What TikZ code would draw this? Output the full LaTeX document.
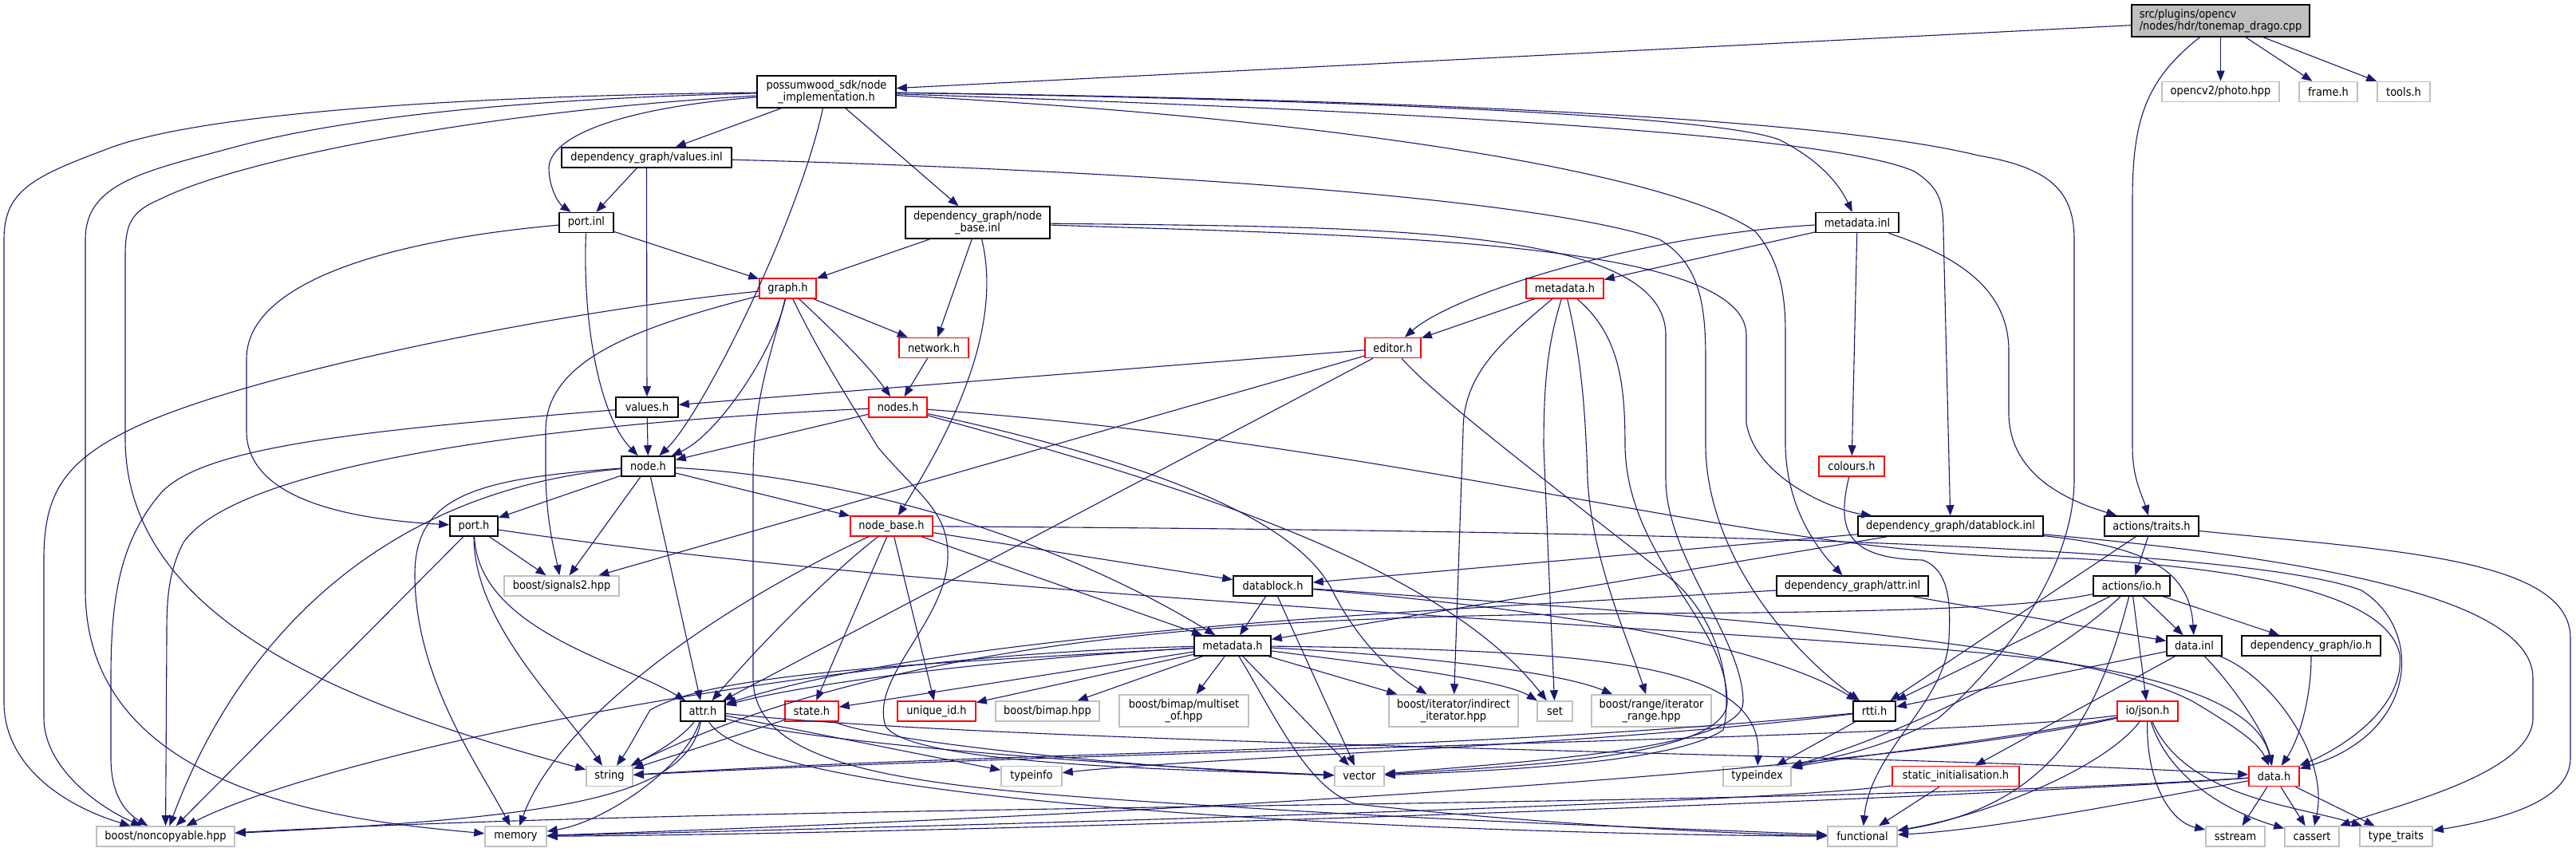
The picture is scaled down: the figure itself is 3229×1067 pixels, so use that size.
\documentclass[tikz,border=0pt]{standalone}
\usepackage{fontspec}
\setmainfont{DejaVu Sans}[FakeStretch=0.9]
\usetikzlibrary{arrows.meta}
\definecolor{edgec}{HTML}{191970}
\definecolor{graybd}{HTML}{BFBFBF}
\definecolor{fillgr}{HTML}{BFBFBF}
\definecolor{redbd}{HTML}{FF0000}
\tikzset{
  dep/.style={draw=edgec, line width=0.55pt, -{Triangle[length=6.5pt,width=5pt]}},
  box/.style={rectangle, inner sep=0pt, minimum height=12.5pt, line width=0.8pt, font=\fontsize{7.2pt}{7.6pt}\selectfont, align=center, fill=white},
  bk/.style={box, draw=black},
  gr/.style={box, draw=graybd},
  rd/.style={box, draw=redbd},
  tall/.style={minimum height=20pt},
  bw/.style={minimum width={#1*0.5pt}},
}
\begin{document}
\begin{tikzpicture}[x=0.5pt,y=-0.5pt]
\fill[white] (0,0) rectangle (3229,1067);
\path[use as bounding box] (0,0) rectangle (3229,1067);

% nodes
\node[bk,bw=223,tall,fill=fillgr,align=left] (T) at (2783.5,26) {src/plugins/opencv\\/nodes/hdr/tonemap\_drago.cpp};
\node[bk,bw=174,tall] (NI) at (1036,115) {possumwood\_sdk/node\\\_implementation.h};
\node[gr,bw=147] (PH) at (2783.5,115) {opencv2/photo.hpp};
\node[gr,bw=73] (FR) at (2918.5,115) {frame.h};
\node[gr,bw=66] (TO) at (3013,115) {tools.h};
\node[bk,bw=213] (VI) at (810.5,197.5) {dependency\_graph/values.inl};
\node[bk,bw=68] (PI) at (735,279) {port.inl};
\node[bk,bw=181,tall] (NBI) at (1225.5,279) {dependency\_graph/node\\\_base.inl};
\node[bk,bw=104] (MI) at (2328,279) {metadata.inl};
\node[rd,bw=71] (GR) at (987.5,361.5) {graph.h};
\node[rd,bw=97] (MHr) at (1961.5,361.5) {metadata.h};
\node[rd,bw=87] (NW) at (1170.5,436) {network.h};
\node[rd,bw=70] (ED) at (1746,436) {editor.h};
\node[bk,bw=78] (VH) at (811,510.5) {values.h};
\node[rd,bw=73] (NS) at (1125.5,510.5) {nodes.h};
\node[bk,bw=67] (NH) at (812.5,584.5) {node.h};
\node[rd,bw=82] (CO) at (2321,584.5) {colours.h};
\node[bk,bw=60] (PT) at (594,659.5) {port.h};
\node[rd,bw=103] (NB) at (1117.5,659.5) {node\_base.h};
\node[bk,bw=232] (DBI) at (2445,659.5) {dependency\_graph/datablock.inl};
\node[bk,bw=118] (AT) at (2697,659.5) {actions/traits.h};
\node[gr,bw=144] (SIG) at (704,734.5) {boost/signals2.hpp};
\node[bk,bw=99] (DB) at (1595.5,734.5) {datablock.h};
\node[bk,bw=190] (ATI) at (2322,734.5) {dependency\_graph/attr.inl};
\node[bk,bw=96] (AIO) at (2672,734.5) {actions/io.h};
\node[bk,bw=96] (MH) at (1545,809.5) {metadata.h};
\node[bk,bw=69] (DI) at (2750.5,809.5) {data.inl};
\node[bk,bw=174] (DIO) at (2897,809.5) {dependency\_graph/io.h};
\node[bk,bw=56] (ATR) at (881,891.5) {attr.h};
\node[rd,bw=67] (ST) at (1017.5,891.5) {state.h};
\node[rd,bw=98] (UID) at (1174,891.5) {unique\_id.h};
\node[gr,bw=130] (BM) at (1313,891.5) {boost/bimap.hpp};
\node[gr,bw=162,tall] (BMM) at (1484,891) {boost/bimap/multiset\\\_of.hpp};
\node[gr,bw=162,tall] (II) at (1822,891) {boost/iterator/indirect\\\_iterator.hpp};
\node[gr,bw=44] (SET) at (1949,891.5) {set};
\node[gr,bw=150,tall] (IR) at (2070,891) {boost/range/iterator\\\_range.hpp};
\node[bk,bw=53] (RT) at (2349.5,891.5) {rtti.h};
\node[rd,bw=76] (JS) at (2692,891.5) {io/json.h};
\node[gr,bw=58] (STR) at (764,973) {string};
\node[gr,bw=76] (TI) at (1293,973) {typeinfo};
\node[gr,bw=62] (VEC) at (1704,973) {vector};
\node[gr,bw=85] (TX) at (2202.5,973) {typeindex};
\node[rd,bw=159] (SI) at (2451.5,973) {static\_initialisation.h};
\node[rd,bw=63] (DH) at (2850.5,973) {data.h};
\node[gr,bw=173] (NC) at (207.5,1048.5) {boost/noncopyable.hpp};
\node[gr,bw=77] (MEM) at (646.5,1048.5) {memory};
\node[gr,bw=87] (FN) at (2334.5,1048.5) {functional};
\node[gr,bw=74] (SS) at (2802,1048.5) {sstream};
\node[gr,bw=68] (CA) at (2898,1048.5) {cassert};
\node[gr,bw=91] (TT) at (3003.5,1048.5) {type\_traits};

% T
\draw[dep] (T) -- (NI);
\draw[dep] (T) -- (PH);
\draw[dep] (T) -- (FR);
\draw[dep] (T) -- (TO);
\draw[dep] (T) .. controls (2690,100) and (2673,150) .. (2673,250) -- (2673,560) .. controls (2673,600) and (2685,620) .. (AT);

% NI
\draw[dep] (NI) .. controls (600,120) and (250,140) .. (131,188) .. controls (40,222) and (5,240) .. (5,300) -- (5,880) .. controls (5,960) and (80,1010) .. (NC);
\draw[dep] (NI) .. controls (600,125) and (400,155) .. (288,186) .. controls (180,215) and (107,230) .. (107,300) -- (107,740) .. controls (107,1000) and (450,1030) .. (MEM);
\draw[dep] (NI) .. controls (600,140) and (300,200) .. (200,250) .. controls (165,265) and (157,280) .. (157,320) -- (157,550) .. controls (157,800) and (500,900) .. (STR);
\draw[dep] (NI) .. controls (780,135) and (690,170) .. (688,210) .. controls (688,235) and (700,255) .. (PI);
\draw[dep] (NI) -- (VI);
\draw[dep] (NI) .. controls (1000,280) and (880,520) .. (NH);
\draw[dep] (NI) -- (NBI);
\draw[dep] (NI) .. controls (1700,125) and (2150,145) .. (2230,175) .. controls (2280,200) and (2305,230) .. (MI);
\draw[dep] (NI) .. controls (1800,140) and (2300,170) .. (2400,215) .. controls (2430,235) and (2436,250) .. (2436,290) -- (DBI);
\draw[dep] (NI) .. controls (1800,125) and (2300,150) .. (2480,195) .. controls (2570,210) and (2600,240) .. (2600,300) -- (2600,600) .. controls (2600,720) and (2500,840) .. (2430,900) .. controls (2360,940) and (2290,950) .. (TX);
\draw[dep] (NI) .. controls (1700,150) and (2100,220) .. (2200,290) .. controls (2235,330) and (2238,380) .. (2238,420) -- (2238,560) .. controls (2240,640) and (2280,690) .. (ATI);

% VI
\draw[dep] (VI) -- (PI);
\draw[dep] (VI) -- (VH);
\draw[dep] (VI) .. controls (1300,210) and (1900,240) .. (2080,300) .. controls (2130,330) and (2138,380) .. (2138,450) -- (2138,560) .. controls (2140,700) and (2250,820) .. (RT);

% PI
\draw[dep] (PI) -- (GR);
\draw[dep] (PI) .. controls (500,300) and (309,350) .. (309,450) -- (309,540) .. controls (309,620) and (420,650) .. (PT);
\draw[dep] (PI) .. controls (730,400) and (750,520) .. (NH);

% NBI
\draw[dep] (NBI) -- (GR);
\draw[dep] (NBI) -- (NW);
\draw[dep] (NBI) .. controls (1260,420) and (1180,560) .. (NB);
\draw[dep] (NBI) .. controls (1700,295) and (2189,300) .. (2189,420) -- (2189,530) .. controls (2200,600) and (2300,640) .. (DBI);
\draw[dep] (NBI) .. controls (1700,285) and (2088,280) .. (2088,420) -- (2088,600) .. controls (2088,700) and (2185,800) .. (2185,880) .. controls (2185,940) and (1900,955) .. (VEC);

% MI
\draw[dep] (MI) -- (MHr);
\draw[dep] (MI) .. controls (2050,295) and (1820,370) .. (ED);
\draw[dep] (MI) -- (CO);
\draw[dep] (MI) .. controls (2450,320) and (2518,360) .. (2518,440) -- (2518,520) .. controls (2520,600) and (2600,630) .. (AT);

% GR
\draw[dep] (GR) -- (NW);
\draw[dep] (GR) .. controls (1050,420) and (1090,460) .. (NS);
\draw[dep] (GR) .. controls (970,440) and (900,545) .. (NH);
\draw[dep] (GR) .. controls (700,390) and (300,470) .. (160,540) .. controls (80,580) and (55,620) .. (55,700) -- (55,900) .. controls (55,960) and (120,1010) .. (NC);
\draw[dep] (GR) .. controls (800,410) and (684,450) .. (684,540) -- (684,600) .. controls (686,660) and (695,690) .. (SIG);
\draw[dep] (GR) .. controls (965,450) and (944,500) .. (944,600) -- (944,850) .. controls (944,980) and (1200,990) .. (1600,1015) .. controls (1900,1033) and (2150,1040) .. (FN);
\draw[dep] (GR) .. controls (1030,450) and (1070,510) .. (1100,560) .. controls (1150,620) and (1190,640) .. (1188,700) .. controls (1185,780) and (1090,850) .. (1110,910) .. controls (1140,960) and (1500,965) .. (VEC);

% NW
\draw[dep] (NW) -- (NS);

% MHr
\draw[dep] (MHr) -- (ED);
\draw[dep] (MHr) .. controls (1880,430) and (1834,470) .. (1834,540) -- (II);
\draw[dep] (MHr) .. controls (1940,430) and (1935,480) .. (1935,560) -- (SET);
\draw[dep] (MHr) .. controls (1980,440) and (1987,500) .. (1990,600) .. controls (1995,700) and (2040,800) .. (IR);
\draw[dep] (MHr) .. controls (2030,420) and (2037,480) .. (2037,560) .. controls (2040,700) and (2165,780) .. (2165,880) .. controls (2165,950) and (1900,960) .. (VEC);

% ED
\draw[dep] (ED) -- (VH);
\draw[dep] (ED) -- (SIG);
\draw[dep] (ED) -- (ATR);
\draw[dep] (ED) .. controls (1800,500) and (2000,650) .. (2100,730) .. controls (2165,790) and (2170,880) .. (2160,915) .. controls (2100,955) and (1900,965) .. (VEC);

% VH
\draw[dep] (VH) -- (NH);
\draw[dep] (VH) .. controls (450,540) and (250,560) .. (200,620) .. controls (150,680) and (139,750) .. (139,850) -- (139,950) .. controls (139,1000) and (160,1020) .. (NC);

% NS
\draw[dep] (NS) -- (NH);
\draw[dep] (NS) .. controls (700,530) and (300,580) .. (230,680) .. controls (209,720) and (209,760) .. (209,800) -- (NC);
\draw[dep] (NS) .. controls (1800,560) and (2200,700) .. (2600,700) .. controls (2800,712) and (2990,740) .. (3008,820) .. controls (3015,890) and (2930,940) .. (DH);
\draw[dep] (NS) .. controls (1400,570) and (1620,640) .. (1670,740) .. controls (1700,800) and (1740,840) .. (II);
\draw[dep] (NS) .. controls (1450,600) and (1800,700) .. (SET);

% NH
\draw[dep] (NH) -- (NB);
\draw[dep] (NH) -- (PT);
\draw[dep] (NH) -- (ATR);
\draw[dep] (NH) .. controls (1100,600) and (1350,690) .. (MH);
\draw[dep] (NH) -- (SIG);
\draw[dep] (NH) .. controls (480,615) and (300,800) .. (NC);
\draw[dep] (NH) .. controls (600,600) and (520,620) .. (520,720) .. controls (520,850) and (600,960) .. (MEM);

% PT
\draw[dep] (PT) -- (NC);
\draw[dep] (PT) -- (SIG);
\draw[dep] (PT) .. controls (594,780) and (700,880) .. (STR);
\draw[dep] (PT) .. controls (600,790) and (780,830) .. (ATR);
\draw[dep] (PT) .. controls (1200,750) and (2200,790) .. (2500,820) .. controls (2700,840) and (2830,880) .. (DH);

% NB
\draw[dep] (NB) -- (DB);
\draw[dep] (NB) -- (MH);
\draw[dep] (NB) -- (UID);
\draw[dep] (NB) -- (ST);
\draw[dep] (NB) .. controls (1040,720) and (960,800) .. (ATR);
\draw[dep] (NB) .. controls (900,760) and (700,900) .. (MEM);
\draw[dep] (NB) .. controls (2000,665) and (2800,680) .. (2960,740) .. controls (3040,790) and (3030,920) .. (DH);

% DBI
\draw[dep] (DBI) -- (DB);
\draw[dep] (DBI) -- (MH);
\draw[dep] (DBI) .. controls (2690,685) and (2745,715) .. (DI);
\draw[dep] (DBI) .. controls (2900,700) and (3175,750) .. (3175,850) -- (3175,900) .. controls (3175,970) and (3000,1010) .. (CA);

% AT
\draw[dep] (AT) -- (AIO);
\draw[dep] (AT) -- (RT);
\draw[dep] (AT) .. controls (3000,690) and (3222,700) .. (3222,800) -- (3222,950) .. controls (3222,1000) and (3150,1025) .. (TT);

% DB
\draw[dep] (DB) -- (MH);
\draw[dep] (DB) -- (VEC);
\draw[dep] (DB) .. controls (2100,770) and (2600,800) .. (2750,880) .. controls (2800,910) and (2830,930) .. (DH);
\draw[dep] (DB) .. controls (1900,760) and (2200,800) .. (RT);

% ATI
\draw[dep] (ATI) .. controls (1800,765) and (1200,790) .. (ATR);
\draw[dep] (ATI) -- (DI);

% AIO
\draw[dep] (AIO) -- (JS);
\draw[dep] (AIO) -- (DI);
\draw[dep] (AIO) -- (DIO);
\draw[dep] (AIO) -- (RT);
\draw[dep] (AIO) .. controls (2550,850) and (2350,930) .. (TX);
\draw[dep] (AIO) .. controls (2630,900) and (2570,1010) .. (FN);
\draw[dep] (AIO) .. controls (2550,760) and (2420,765) .. (2200,768) .. controls (1800,772) and (1200,760) .. (STR);

% MH
\draw[dep] (MH) .. controls (1200,830) and (1000,860) .. (ATR);
\draw[dep] (MH) -- (ST);
\draw[dep] (MH) -- (UID);
\draw[dep] (MH) -- (BM);
\draw[dep] (MH) -- (BMM);
\draw[dep] (MH) .. controls (1000,820) and (400,950) .. (NC);
\draw[dep] (MH) .. controls (1200,830) and (900,840) .. (815,890) .. controls (800,915) and (790,935) .. (STR);
\draw[dep] (MH) -- (II);
\draw[dep] (MH) .. controls (1700,830) and (1880,850) .. (SET);
\draw[dep] (MH) .. controls (1750,820) and (1950,840) .. (IR);
\draw[dep] (MH) -- (VEC);
\draw[dep] (MH) .. controls (2000,815) and (2210,830) .. (TX);
\draw[dep] (MH) .. controls (1600,900) and (1640,990) .. (1700,1008) .. controls (1900,1030) and (2150,1045) .. (FN);

% DI
\draw[dep] (DI) .. controls (2800,860) and (2840,920) .. (DH);
\draw[dep] (DI) .. controls (2850,850) and (2920,950) .. (CA);
\draw[dep] (DI) -- (SI);
\draw[dep] (DI) -- (RT);

% DIO
\draw[dep] (DIO) .. controls (2897,880) and (2880,930) .. (DH);

% ATR
\draw[dep] (ATR) .. controls (850,930) and (810,950) .. (STR);
\draw[dep] (ATR) .. controls (860,960) and (760,1030) .. (MEM);
\draw[dep] (ATR) .. controls (860,1000) and (700,1025) .. (NC);
\draw[dep] (ATR) .. controls (950,1010) and (1800,1045) .. (FN);
\draw[dep] (ATR) -- (TI);
\draw[dep] (ATR) .. controls (1300,935) and (2400,945) .. (DH);
\draw[dep] (ATR) .. controls (1000,930) and (1400,960) .. (VEC);

% ST
\draw[dep] (ST) -- (STR);
\draw[dep] (ST) .. controls (1100,930) and (1450,965) .. (VEC);

% RT
\draw[dep] (RT) .. controls (1800,945) and (1300,940) .. (STR);
\draw[dep] (RT) -- (TX);
\draw[dep] (RT) .. controls (2000,935) and (1500,950) .. (TI);

% JS
\draw[dep] (JS) .. controls (2690,980) and (2720,1030) .. (SS);
\draw[dep] (JS) .. controls (2720,980) and (2800,1020) .. (CA);
\draw[dep] (JS) .. controls (2740,1000) and (2880,1010) .. (TT);
\draw[dep] (JS) .. controls (2640,960) and (2500,1020) .. (FN);
\draw[dep] (JS) .. controls (2450,925) and (1400,940) .. (STR);
\draw[dep] (JS) .. controls (2300,980) and (1200,1030) .. (MEM);
\draw[dep] (JS) .. controls (2500,930) and (2300,950) .. (TX);

% SI
\draw[dep] (SI) -- (FN);
\draw[dep] (SI) .. controls (2200,1010) and (1000,1040) .. (MEM);

% DH
\draw[dep] (DH) -- (SS);
\draw[dep] (DH) -- (CA);
\draw[dep] (DH) -- (TT);
\draw[dep] (DH) .. controls (2700,1000) and (2500,1040) .. (FN);
\draw[dep] (DH) .. controls (2400,1005) and (1200,1045) .. (MEM);
\draw[dep] (DH) .. controls (2200,1015) and (1000,1005) .. (NC);

% CO
\draw[dep] (CO) .. controls (2300,670) and (2320,700) .. (2410,702) .. controls (2445,715) and (2445,760) .. (2443,800) .. controls (2440,880) and (2345,940) .. (FN);
\end{tikzpicture}
\end{document}
